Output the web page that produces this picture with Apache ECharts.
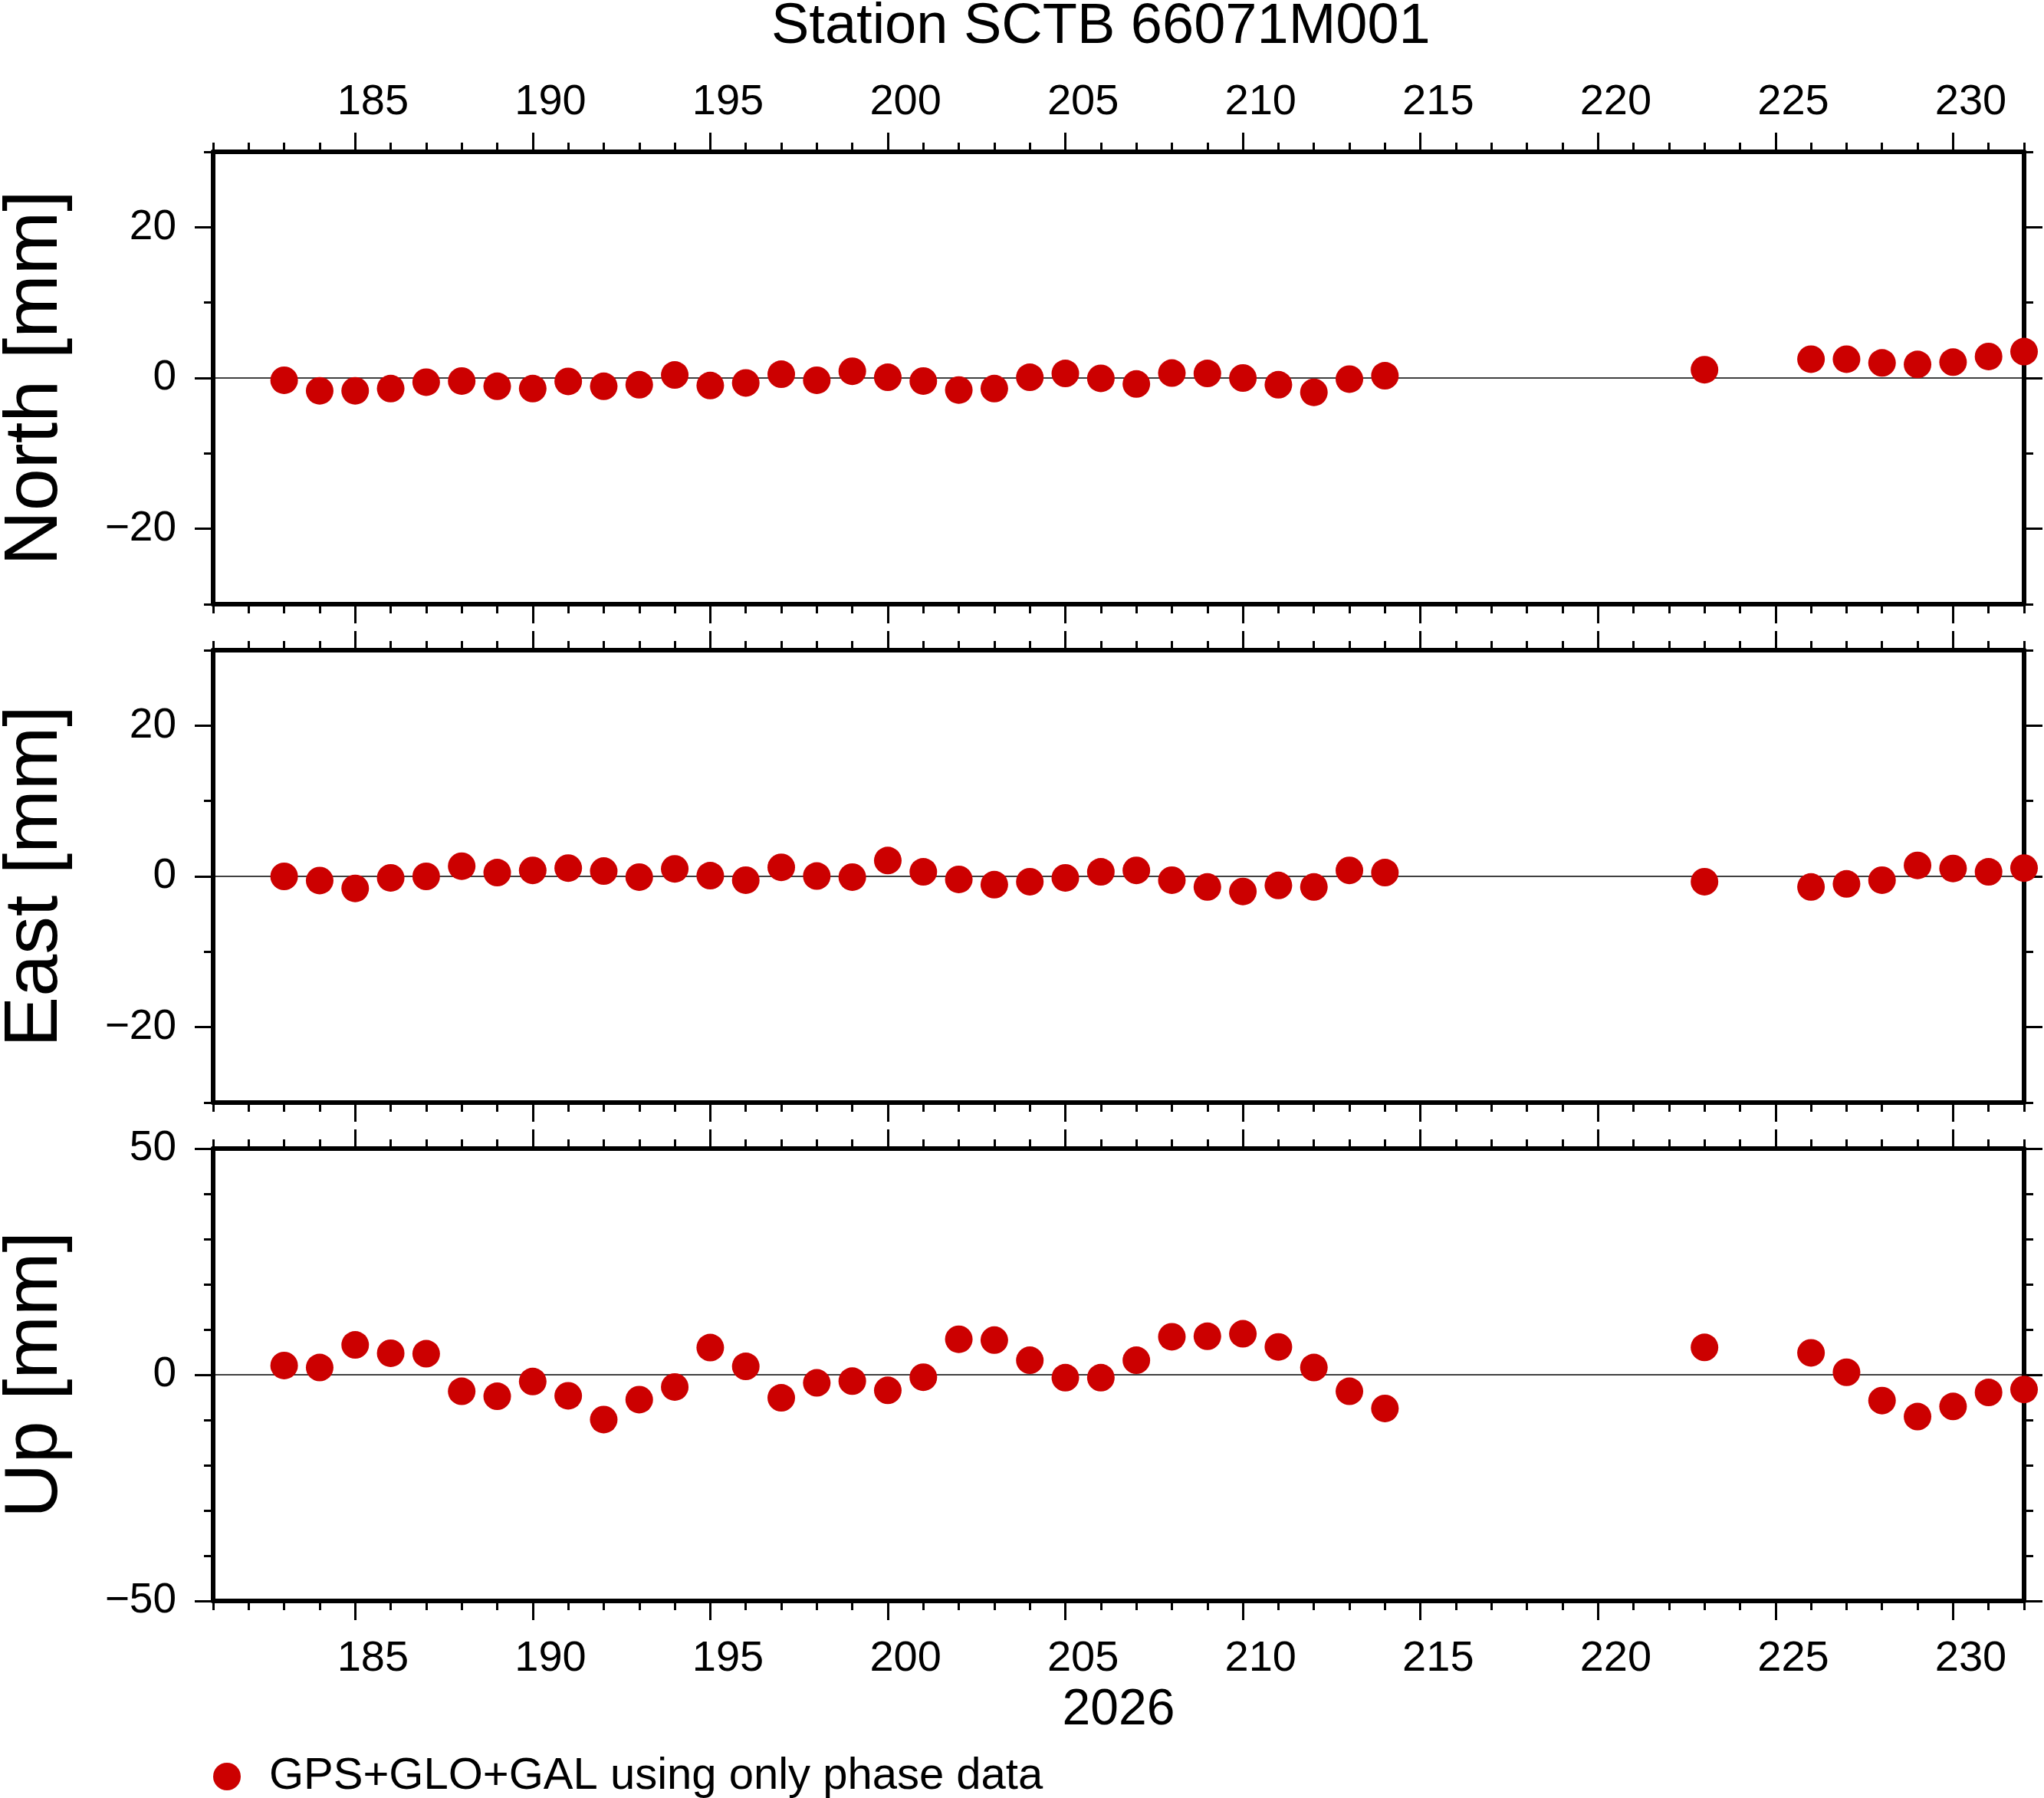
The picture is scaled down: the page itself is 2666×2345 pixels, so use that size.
<!DOCTYPE html>
<html>
<head>
<meta charset="utf-8">
<script src="https://cdn.jsdelivr.net/npm/echarts@6/dist/echarts.min.js"></script>
<style>
  html, body { margin: 0; padding: 0; background: #fff; }
  #chart { width: 2666px; height: 2345px; }
</style>
</head>
<body>
<div id="chart"></div>
<script>
// day of year 2026
var days = [183, 184, 185, 186, 187, 188, 189, 190, 191, 192, 193, 194, 195, 196, 197, 198,
  199, 200, 201, 202, 203, 204, 205, 206, 207, 208, 209, 210, 211, 212, 213, 214,
  223, 226, 227, 228, 229, 230, 231, 232];

// residuals in mm
var north = [-0.3, -1.7, -1.7, -1.4, -0.55, -0.4, -1.1, -1.4, -0.45, -1.1, -0.9, 0.4, -1.0, -0.65, 0.5, -0.3,
  0.9, 0.1, -0.4, -1.6, -1.4, 0.1, 0.6, -0.05, -0.8, 0.65, 0.6, 0.0, -0.9, -1.9, -0.15, 0.3,
  1.1, 2.5, 2.5, 2.0, 1.8, 2.1, 2.85, 3.5];
var east = [0, -0.55, -1.6, -0.2, 0, 1.35, 0.5, 0.8, 1.1, 0.7, -0.1, 1.0, 0.1, -0.5, 1.2, 0.05,
  -0.1, 2.1, 0.6, -0.4, -1.1, -0.7, -0.2, 0.6, 0.8, -0.5, -1.4, -2.0, -1.2, -1.4, 0.8, 0.5,
  -0.7, -1.4, -1.0, -0.5, 1.45, 1.05, 0.6, 1.1];
var up = [2.05, 1.6, 6.6, 4.75, 4.65, -3.65, -4.75, -1.5, -4.65, -9.9, -5.5, -2.7, 6.0, 1.85, -5.1, -1.8,
  -1.4, -3.45, -0.55, 7.85, 7.65, 3.2, -0.65, -0.65, 3.2, 8.4, 8.5, 9.05, 6.15, 1.6, -3.65, -7.45,
  6.05, 4.85, 0.55, -5.7, -9.25, -7.0, -3.9, -3.25];

var xMin = 181, xMax = 232;
var xMajor = [185, 190, 195, 200, 205, 210, 215, 220, 225, 230];
// day labels sit in the middle of the day interval
var xLabelPos = xMajor.map(function (v) { return v + 0.5; });
var xMinor = [];
for (var d = xMin; d <= xMax; d++) xMinor.push(d);

var panels = [
  { name: 'North [mm]', data: north, min: -30, max: 30, major: [-20, 0, 20], minor: [-30, -10, 10, 30] },
  { name: 'East [mm]', data: east, min: -30, max: 30, major: [-20, 0, 20], minor: [-30, -10, 10, 30] },
  { name: 'Up [mm]', data: up, min: -50, max: 50, major: [-50, 0, 50], minor: [-40, -30, -20, -10, 10, 20, 30, 40] }
];

var legendName = 'GPS+GLO+GAL using only phase data';
var font = '"Liberation Sans", Arial, Helvetica, sans-serif';
var red = '#cc0000';
var gridTop = [198, 848, 1498];

var grids = [], xAxes = [], yAxes = [], series = [];

function minus(v) {
  return String(v).replace('-', '\u2212');
}

panels.forEach(function (p, g) {
  grids.push({ left: 278, right: 26, top: gridTop[g], height: 590, containLabel: false, outerBoundsMode: 'none' });

  // x axes: major + minor ticks on top and bottom
  ['top', 'bottom'].forEach(function (pos) {
    var showLabel = (pos === 'top' && g === 0) || (pos === 'bottom' && g === 2);
    var ax = {
      type: 'value', gridIndex: g, position: pos, min: xMin, max: xMax,
      axisLine: { show: true, onZero: false, lineStyle: { color: '#000', width: 6 } },
      axisTick: { show: true, inside: false, length: 25, customValues: xMajor, lineStyle: { color: '#000', width: 3 } },
      axisLabel: {
        show: showLabel, customValues: xLabelPos, margin: pos === 'top' ? 36 : 48,
        fontSize: 56, color: '#000', fontFamily: font,
        formatter: function (v) { return String(Math.floor(v)); }
      },
      splitLine: { show: false }
    };
    if (pos === 'bottom' && g === 2) {
      ax.name = '2026';
      ax.nameLocation = 'middle';
      ax.nameGap = 110;
      ax.nameTextStyle = { fontSize: 66, color: '#000', fontFamily: font };
    }
    xAxes.push(ax);
    xAxes.push({
      type: 'value', gridIndex: g, position: pos, min: xMin, max: xMax,
      axisLine: { show: false, onZero: false },
      axisTick: { show: true, inside: false, length: 12, customValues: xMinor, lineStyle: { color: '#000', width: 3 } },
      axisLabel: { show: false },
      splitLine: { show: false }
    });
  });

  // y axes
  var yLeftIndex = yAxes.length;
  yAxes.push({
    type: 'value', gridIndex: g, position: 'left', min: p.min, max: p.max,
    name: p.name, nameLocation: 'middle', nameRotate: 90, nameGap: 182,
    nameTextStyle: { fontSize: 99, color: '#000', fontFamily: font },
    axisLine: { show: true, onZero: false, lineStyle: { color: '#000', width: 6 } },
    axisTick: { show: true, length: 24, customValues: p.major, lineStyle: { color: '#000', width: 3 } },
    axisLabel: { show: true, customValues: p.major, margin: 48, fontSize: 55, color: '#000', fontFamily: font, formatter: minus },
    splitLine: { show: false }
  });
  yAxes.push({
    type: 'value', gridIndex: g, position: 'left', min: p.min, max: p.max,
    axisLine: { show: false, onZero: false },
    axisTick: { show: true, length: 12, customValues: p.minor, lineStyle: { color: '#000', width: 3 } },
    axisLabel: { show: false },
    splitLine: { show: false }
  });
  yAxes.push({
    type: 'value', gridIndex: g, position: 'right', min: p.min, max: p.max,
    axisLine: { show: true, onZero: false, lineStyle: { color: '#000', width: 6 } },
    axisTick: { show: true, length: 24, customValues: p.major, lineStyle: { color: '#000', width: 3 } },
    axisLabel: { show: false },
    splitLine: { show: false }
  });
  yAxes.push({
    type: 'value', gridIndex: g, position: 'right', min: p.min, max: p.max,
    axisLine: { show: false, onZero: false },
    axisTick: { show: true, length: 12, customValues: p.minor, lineStyle: { color: '#000', width: 3 } },
    axisLabel: { show: false },
    splitLine: { show: false }
  });

  series.push({
    name: legendName,
    type: 'scatter',
    xAxisIndex: g * 4 + 2,
    yAxisIndex: yLeftIndex,
    symbol: 'circle',
    symbolSize: 36,
    clip: false,
    itemStyle: { color: red, opacity: 1 },
    data: days.map(function (d, i) { return [d, p.data[i]]; }),
    markLine: {
      silent: true,
      symbol: 'none',
      label: { show: false },
      lineStyle: { color: '#000', width: 1.5, type: 'solid', opacity: 1 },
      data: [{ yAxis: 0 }],
      z: 1
    }
  });
});

var chart = echarts.init(document.getElementById('chart'), null, { renderer: 'canvas' });
chart.setOption({
  backgroundColor: '#fff',
  animation: false,
  title: {
    text: 'Station SCTB 66071M001',
    left: 1006,
    top: -1,
    padding: 0,
    textStyle: { fontSize: 74, fontWeight: 'normal', color: '#000', fontFamily: font }
  },
  legend: {
    data: [legendName],
    left: 273,
    top: 2283,
    icon: 'circle',
    itemWidth: 36,
    itemHeight: 36,
    itemStyle: { opacity: 1 },
    textStyle: { fontSize: 58, color: '#000', fontFamily: font, padding: [0, 0, 0, 32] }
  },
  grid: grids,
  xAxis: xAxes,
  yAxis: yAxes,
  series: series
});
</script>
</body>
</html>
